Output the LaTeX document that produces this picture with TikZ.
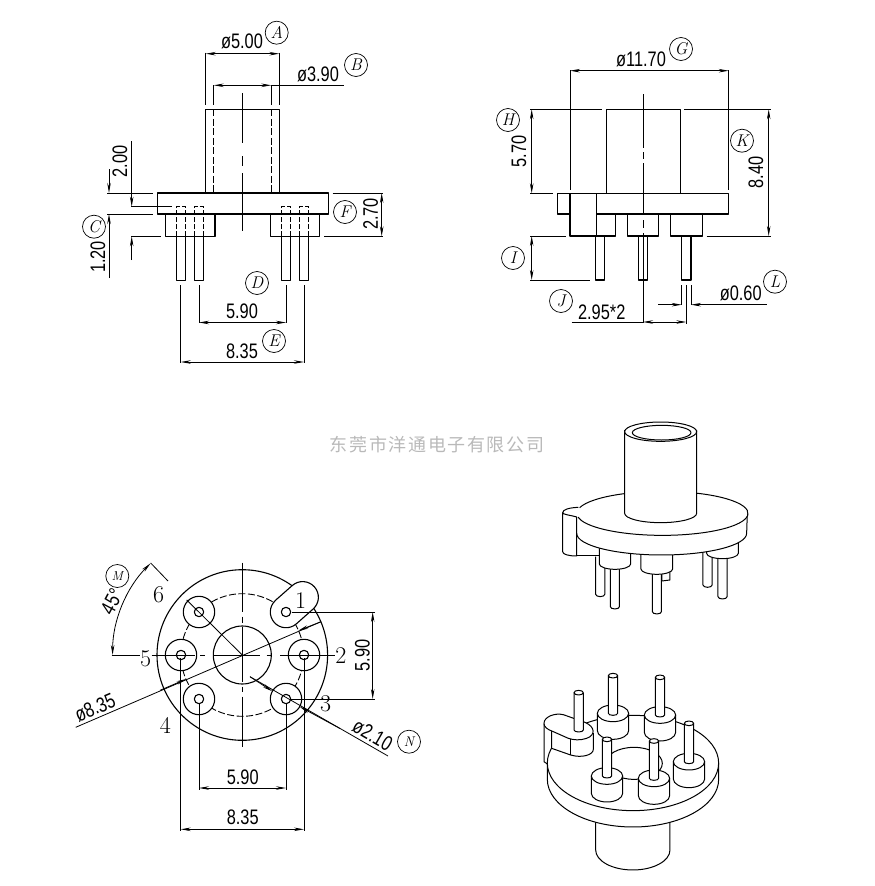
\documentclass[tikz,border=0pt]{standalone}
\usepackage{fontspec}
\usetikzlibrary{arrows.meta}
\newfontfamily\dimfont[FakeStretch=0.78]{Liberation Sans}
\newfontfamily\wmfont[LetterSpace=9]{Noto Sans CJK SC}
\tikzset{
  part/.style={line width=1.1pt,line join=round},
  dimline/.style={line width=.8pt,>={Stealth[length=10pt,width=3.5pt]}},
  hidden/.style={line width=.9pt,dash pattern=on 7pt off 2.5pt},
  iso/.style={line width=1pt,fill=white,line join=round},
  dimtext/.style={font=\dimfont\fontsize{21}{21}\selectfont,inner sep=0pt},
  pinno/.style={font=\fontsize{24}{24}\selectfont,inner sep=0pt},
  tag/.style={circle,draw,line width=.7pt,minimum size=23pt,inner sep=0pt,font=\itshape\fontsize{17}{17}\selectfont},
}
\begin{document}
\begin{tikzpicture}[x=1pt,y=-1pt]
\useasboundingbox (0,0) rectangle (875,886);
% front view
\draw[part] (205.7,193) -- (205.7,109.3) -- (279.3,109.3) -- (279.3,193);
\draw[part] (157.3,193) rectangle (328.3,214);
\draw[part] (165.7,214) -- (165.7,236.3) -- (215,236.3) -- (215,214);
\draw[part] (270.7,214) -- (270.7,236.3) -- (319.3,236.3) -- (319.3,214);
\draw[hidden] (213.7,109.3) -- (213.7,193);
\draw[hidden] (271.3,109.3) -- (271.3,193);
\foreach \x in {176.7,194.3,281.7,299.7} {
  \draw[part] (\x,236.3) rectangle (\x+9,280.3);
  \draw[hidden,dash pattern=on 5pt off 2pt] (\x,236.3) -- (\x,206.7) -- (\x+9,206.7) -- (\x+9,236.3);
}
\draw[dimline] (242,93) -- (242,143);
\draw[dimline] (242,156) -- (242,166);
\draw[dimline] (242,173) -- (242,230.7);
\draw[dimline] (205.7,52.7) -- (205.7,105);
\draw[dimline] (279.3,52.7) -- (279.3,105);
\draw[dimline] (213.7,85.3) -- (213.7,105);
\draw[dimline] (271.3,85.3) -- (271.3,105);
\draw[dimline,<->] (205.7,53.7) -- (279.3,53.7);
\draw[dimline,<->] (213.7,85.3) -- (271.3,85.3);
\draw[dimline] (271.3,85.3) -- (343.5,85.3);
\draw[dimline] (107.3,193) -- (152.7,193);
\draw[dimline] (107.3,214) -- (152.7,214);
\draw[dimline] (131,206.7) -- (171.7,206.7);
\draw[dimline] (131,236.3) -- (160.7,236.3);
\draw[dimline] (332.7,193) -- (383.3,193);
\draw[dimline] (324,236.3) -- (383.3,236.3);
\draw[dimline,<->] (381.7,193) -- (381.7,236.3);
\draw[dimline,->] (131.7,141) -- (131.7,206.7);
\draw[dimline,->] (131.7,260) -- (131.7,236.3);
\draw[dimline,->] (109,169) -- (109,193);
\draw[dimline,->] (109,278) -- (109,214);
\draw[dimline] (199,285) -- (199,323);
\draw[dimline] (286,285) -- (286,323);
\draw[dimline,<->] (199,322.5) -- (286,322.5);
\draw[dimline] (180.7,285) -- (180.7,363);
\draw[dimline] (304,285) -- (304,363);
\draw[dimline,<->] (180.7,362) -- (304,362);
\node[dimtext] (dfive) at (242,41) {ø5.00};
\node[dimtext] (dthree) at (318,74) {ø3.90};
\node[dimtext,rotate=90] (dtwo) at (120,161.7) {2.00};
\node[dimtext,rotate=90] (done) at (98,257) {1.20};
\node[dimtext,rotate=90] (dflange) at (370.7,214) {2.70};
\node[dimtext] (dpitch) at (242,311.5) {5.90};
\node[dimtext] (dspan) at (242,351) {8.35};
\node[tag] (tagA) at (276.7,32.7) {A};
\node[tag] (tagB) at (356,65) {B};
\node[tag] (tagC) at (94,226.7) {C};
\node[tag] (tagD) at (257,283) {D};
\node[tag] (tagE) at (274,341) {E};
\node[tag] (tagF) at (345,212) {F};
% side view
\draw[part] (606.5,193.3) -- (606.5,109.3) -- (680.5,109.3) -- (680.5,193.3);
\draw[part] (570,214) -- (557.7,214) -- (557.7,193.3) -- (728.7,193.3) -- (728.7,214) -- (596.5,214);
\draw[part] (570,193.3) -- (570,236) -- (596.5,236) -- (596.5,193.3);
\draw[part] (596.5,214) -- (615.7,214) -- (615.7,236) -- (596.5,236);
\draw[part] (627.7,214) rectangle (658.7,236);
\draw[part] (670.7,214) rectangle (702.3,236);
\draw[part] (595.5,236) rectangle (604.5,280);
\draw[part] (638.7,236) rectangle (647.7,280);
\draw[part] (681.7,236) rectangle (691,280);
\draw[dimline] (643,94) -- (643,148);
\draw[dimline] (643,152) -- (643,159);
\draw[dimline] (643,163) -- (643,213);
\draw[dimline] (643,220) -- (643,228);
\draw[dimline] (643,233) -- (643,323);
\draw[dimline] (570,70) -- (570,190);
\draw[dimline] (728.7,70) -- (728.7,190);
\draw[dimline,<->] (570,70.7) -- (728.7,70.7);
\draw[dimline] (530,109.3) -- (601.7,109.3);
\draw[dimline] (530,193.3) -- (553,193.3);
\draw[dimline,<->] (531.7,109.3) -- (531.7,193.3);
\draw[dimline] (684,109.3) -- (770.7,109.3);
\draw[dimline] (706.7,236) -- (770.7,236);
\draw[dimline,<->] (768.7,109.3) -- (768.7,236);
\draw[dimline] (530,236) -- (565.7,236);
\draw[dimline] (530,280) -- (590,280);
\draw[dimline,<->] (531.7,236) -- (531.7,280);
\draw[dimline] (686.3,285) -- (686.3,323.5);
\draw[dimline] (681.7,285) -- (681.7,305);
\draw[dimline] (691,285) -- (691,305);
\draw[dimline] (571.7,322) -- (643,322);
\draw[dimline,<->] (643,322) -- (686.3,322);
\draw[dimline,->] (658,304.7) -- (681.7,304.7);
\draw[dimline,->] (766.7,304.7) -- (691,304.7);
\node[dimtext] (dwide) at (641,59) {ø11.70};
\node[dimtext,rotate=90] (dneck) at (519,151.7) {5.70};
\node[dimtext,rotate=90] (dtall) at (756,172.7) {8.40};
\node[dimtext] (dstep) at (601.7,312) {2.95*2};
\node[dimtext] (dpin) at (740.7,293) {ø0.60};
\node[tag] (tagG) at (681,49) {G};
\node[tag] (tagH) at (508,120) {H};
\node[tag] (tagK) at (742,140.7) {K};
\node[tag] (tagI) at (513,258) {I};
\node[tag] (tagJ) at (561,301) {J};
\node[tag] (tagL) at (775,281.7) {L};
% watermark
\node[font=\wmfont\fontsize{18}{18}\selectfont,text=gray!55,inner sep=0pt] (maker) at (437,445) {东莞市洋通电子有限公司};
% bottom view
\draw[part] (242.3,655) circle (85.3);
\draw[part] (242.3,655) circle (29);
\draw[hidden] (242.3,655) circle (61.3);
\foreach \x/\y in {199/612,181/655,199/699,286/699,304/655} {
  \draw[part,fill=white] (\x,\y) circle (15.7);
  \draw[part] (\x,\y) circle (4.7);
}
\draw[part,fill=white] (275.6,600.2) -- (292.3,585.5) arc[start angle=228.6,end angle=408.6,radius=15.7]
  -- (296.4,623.8) arc[start angle=48.6,end angle=228.6,radius=15.7] -- cycle;
\draw[part] (286,612) circle (4.7);
\draw[dimline] (111.7,655) -- (140,655);
\draw[dimline] (151.7,655) -- (195,655);
\draw[dimline] (200,655) -- (205,655);
\draw[dimline] (213,655) -- (260,655);
\draw[dimline] (266.7,655) -- (271.7,655);
\draw[dimline] (280,655) -- (335,655);
\draw[dimline] (242.3,562.7) -- (242.3,611.7);
\draw[dimline] (242.3,616.7) -- (242.3,623);
\draw[dimline] (242.3,627) -- (242.3,681.7);
\draw[dimline] (242.3,686.7) -- (242.3,691.7);
\draw[dimline] (242.3,696.7) -- (242.3,746.7);
\draw[dimline] (150.7,563) -- (168,581);
\draw[dimline] (186.7,600) -- (242.3,655);
\draw[dimline,<->] (150.6,563.3) arc[start angle=225,end angle=180,radius=129.7];
\draw[dimline] (75.7,727.3) -- (321,621.7);
\draw[dimline,->] (160,690.3) -- (186.3,679);
\draw[dimline,->] (321,621.7) -- (298.3,630.7);
\draw[dimline] (388,756) -- (250,676.7);
\draw[dimline,->] (340,728.5) -- (299.7,706.7);
\draw[dimline,->] (250,676.7) -- (272.3,691.3);
\draw[dimline] (291.7,612) -- (375,612);
\draw[dimline] (290,699) -- (375,699);
\draw[dimline,<->] (372.7,612) -- (372.7,699);
\draw[dimline] (199,703) -- (199,790);
\draw[dimline] (286,703) -- (286,790);
\draw[dimline,<->] (199,788) -- (286,788);
\draw[dimline] (180.7,658) -- (180.7,830.7);
\draw[dimline] (304,658) -- (304,830.7);
\draw[dimline,<->] (180.7,829.3) -- (304,829.3);
\node[dimtext,rotate=90] (dholes) at (362.3,655.7) {5.90};
\node[dimtext] (dlow) at (242.7,777) {5.90};
\node[dimtext] (dcircle) at (242.7,817) {8.35};
\node[dimtext,rotate=23] (dbolt) at (95,707.7) {ø8.35};
\node[dimtext,rotate=-30] (dboss) at (372.7,735) {ø2.10};
\node[dimtext,rotate=62] (dangle) at (111.7,601.7) {45°};
\node[tag,font=\itshape\fontsize{13}{13}\selectfont] (tagM) at (117.3,576) {M};
\node[tag,font=\itshape\fontsize{14}{14}\selectfont] (tagN) at (409,741.7) {N};
\node[pinno] (pinA) at (300.7,601) {1};
\node[pinno] (pinB) at (341,655.3) {2};
\node[pinno] (pinC) at (325.7,704) {3};
\node[pinno] (pinD) at (165.3,725) {4};
\node[pinno] (pinE) at (145.7,659) {5};
\node[pinno] (pinF) at (158.7,595) {6};
% upper perspective view
\begin{scope}[shift={(530,410)},x=.3333pt,y=-.3333pt]
\draw[iso] (396,470) -- (396,513) -- (420,510) -- (420,470);
\foreach \x/\t/\b in {197/440/553,241/450/590,367/470/605,519/420/525,564/430/560}
  \draw[iso] (\x,\t) -- (\x,\b) arc[start angle=180,end angle=0,x radius=13.7,y radius=7] -- (\x+27.4,\t);
\draw[iso] (140,438) -- (208,438);
\foreach \l/\r/\b in {208/302/462,333/428/477,530/625/430}
  \draw[iso] (\l,390) -- (\l,\b) arc[start angle=180,end angle=0,x radius=(\r-\l)/2,y radius=16] -- (\r,390);
\fill[white] (140,310) -- (140,370) arc[start angle=180,end angle=0,x radius=255,y radius=65] -- (650,310) -- cycle;
\draw[iso,fill=none] (140,370) arc[start angle=180,end angle=0,x radius=255,y radius=65] -- (652,310);
\fill[white] (395,310) ellipse [x radius=257,y radius=66];
\draw[iso,fill=none] (149,293) arc[start angle=195,end angle=530,x radius=257,y radius=66];
\draw[iso] (145,292) .. controls (120,293) and (98,298) .. (98,308) -- (98,425) .. controls (98,433) and (115,438) .. (140,438) -- (140,321) .. controls (125,316) and (98,314) .. (98,308);
\draw[iso] (284,60) -- (284,310) arc[start angle=180,end angle=0,x radius=108,y radius=28] -- (500,60);
\draw[iso] (392,65) ellipse [x radius=108,y radius=29];
\draw[iso] (395,68) ellipse [x radius=88,y radius=22];
\end{scope}
% lower perspective view
\begin{scope}[shift={(530,660)},x=.3333pt,y=-.3333pt]
\draw[iso] (197,470) -- (197,570) arc[start angle=180,end angle=0,x radius=111.5,y radius=60] -- (420,470);
\draw[iso] (42,190) -- (42,305) -- (52,312) -- (65,265) -- (65,213);
\draw[iso] (52,309) -- (52,358) arc[start angle=180,end angle=0,x radius=257,y radius=143] -- (566,309);
\draw[iso] (309,309) ellipse [x radius=257,y radius=143];
\draw[iso] (312,310) ellipse [x radius=85,y radius=48];
% tab with first pin
\draw[iso] (65,213) -- (65,265) -- (122,285) .. controls (155,295) and (190,285) .. (190,268) -- (190,220) -- cycle;
\draw[iso] (122,238) -- (122,285);
\draw[iso] (42,190) .. controls (42,170) and (75,158) .. (100,164) -- (165,187) .. controls (195,200) and (198,225) .. (170,235) .. controls (150,242) and (130,240) .. (115,235) -- (70,215) .. controls (50,208) and (42,200) .. (42,190) -- cycle;
\draw[iso] (132,98) -- (132,210) arc[start angle=180,end angle=0,x radius=14,y radius=6] -- (160,98);
\draw[iso] (146,98) ellipse [x radius=14,y radius=7];
% bosses with pins, back to front
\foreach \x/\y/\t in {249/160/47,390/165/52,477/305/190,231/348/238,372/355/243} {
  \draw[iso] (\x-47,\y) -- (\x-47,\y+52) arc[start angle=180,end angle=0,x radius=47,y radius=26] -- (\x+47,\y);
  \draw[iso] (\x,\y) ellipse [x radius=47,y radius=25];
  \draw[iso] (\x-14,\t) -- (\x-14,\y) arc[start angle=180,end angle=0,x radius=14,y radius=6] -- (\x+14,\t);
  \draw[iso] (\x,\t) ellipse [x radius=14,y radius=7];
}
\end{scope}
\end{tikzpicture}
\end{document}
